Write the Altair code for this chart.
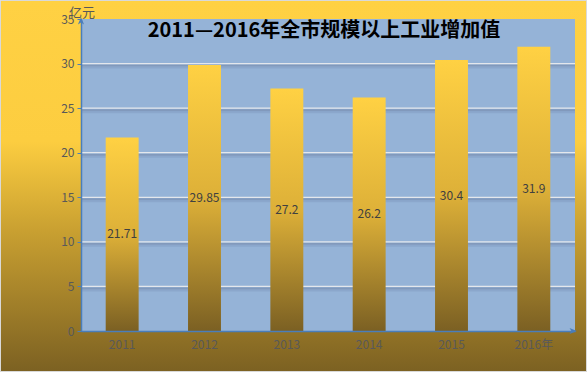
import altair as alt
import pandas as pd

years = ["2011", "2012", "2013", "2014", "2015", "2016"]
values = [21.71, 29.85, 27.2, 26.2, 30.4, 31.9]
value_labels = ["21.71", "29.85", "27.2", "26.2", "30.4", "31.9"]
grid_values = [5, 10, 15, 20, 25, 30]
y_ticks = [0, 5, 10, 15, 20, 25, 30, 35]
title_text = "2011—2016年全市规模以上工业增加值"
unit_text = "亿元"
last_suffix = "年"

W, H = 494, 312
PL, PT, PR, PB = 81, 19, 13, 41

df = pd.DataFrame({"year": years, "value": values, "label": value_labels})
df["half"] = df["value"] / 2
grid_df = pd.DataFrame({"g": grid_values})

FONT = "Noto Sans CJK SC"
AXIS_BLUE = "#4A7EBB"
TXT = "#595959"

xscale = alt.Scale(domain=years, paddingInner=0.6, paddingOuter=0.3)
yscale = alt.Scale(domain=[0, 35], nice=False)

yaxis = alt.Axis(title=None, values=y_ticks, grid=False, domainColor=AXIS_BLUE,
                 domainWidth=1.5, tickColor=AXIS_BLUE, tickSize=4, labelColor=TXT,
                 labelFontSize=12, labelFont=FONT, labelPadding=3, zindex=2)
xaxis = alt.Axis(title=None, labelAngle=0, ticks=False, domainColor=AXIS_BLUE,
                 domainWidth=1.5, labelColor=TXT, labelFontSize=12, labelFont=FONT,
                 labelPadding=8, zindex=2,
                 labelExpr=f"datum.value == '2016' ? datum.value + '{last_suffix}' : datum.value")

bg_grad = alt.Gradient(
    gradient="linear", x1=0, x2=0, y1=0, y2=1,
    stops=[alt.GradientStop(color="#FFD143", offset=0),
           alt.GradientStop(color="#FCCD40", offset=0.38),
           alt.GradientStop(color="#C9A031", offset=0.62),
           alt.GradientStop(color="#7C6122", offset=1)])

bar_grad = alt.Gradient(
    gradient="linear", x1=0, x2=0, y1=0, y2=1,
    stops=[alt.GradientStop(color="#FFD143", offset=0),
           alt.GradientStop(color="#DDB038", offset=0.5),
           alt.GradientStop(color="#7B6023", offset=1)])

one = pd.DataFrame({"a": [0]})
base1 = alt.Chart(one)

background = base1.mark_rect(fill=bg_grad, stroke="#D9D9D9", strokeWidth=1).encode(
    x=alt.value(-PL + 0.5), x2=alt.value(W + PR - 1.5),
    y=alt.value(-PT + 0.5), y2=alt.value(H + PB - 0.5))

plot_bg = base1.mark_rect(fill="#95B3D7").encode(
    x=alt.value(0), x2=alt.value(W), y=alt.value(0), y2=alt.value(H))

g = alt.Chart(grid_df)
shadow1 = g.mark_rule(color="#8199BC", strokeWidth=2, yOffset=2).encode(
    y=alt.Y("g:Q", scale=yscale, axis=yaxis))
shadow2 = g.mark_rule(color="#8BA7CC", strokeWidth=2, yOffset=4).encode(
    y=alt.Y("g:Q", scale=yscale, axis=yaxis))
grid = g.mark_rule(color="#E4E7EC", strokeWidth=1.2).encode(
    y=alt.Y("g:Q", scale=yscale, axis=yaxis))

base = alt.Chart(df)
bars = base.mark_bar(fill=bar_grad).encode(
    x=alt.X("year:N", scale=xscale, sort=years, axis=xaxis),
    y=alt.Y("value:Q", scale=yscale, axis=yaxis))

labels = base.mark_text(color="#404040", fontSize=12, font=FONT).encode(
    x=alt.X("year:N", scale=xscale, sort=years, axis=xaxis),
    y=alt.Y("half:Q", scale=yscale, axis=yaxis),
    text="label:N")

arrow_path = "M0,-1 L0.8,0.9 L0,0.4 L-0.8,0.9 Z"
up_arrow = base1.mark_point(shape=arrow_path, filled=True, color=AXIS_BLUE, size=60, opacity=1).encode(
    x=alt.value(0), y=alt.value(2))
right_arrow = base1.mark_point(shape=arrow_path, filled=True, color=AXIS_BLUE, size=60, angle=90,
                               opacity=1).encode(x=alt.value(W - 2), y=alt.value(H))

title = base1.mark_text(text=title_text, fontSize=20, fontWeight="bold", font=FONT,
                        color="#000000", align="center", baseline="middle").encode(
    x=alt.value(243), y=alt.value(12))

unit = base1.mark_text(text=unit_text, fontSize=13, font=FONT, color=TXT,
                       align="center", baseline="middle").encode(
    x=alt.value(1), y=alt.value(-6))

chart = alt.layer(background, plot_bg, shadow2, shadow1, grid, bars, labels,
                  up_arrow, right_arrow, title, unit).properties(
    width=W, height=H,
    autosize=alt.AutoSizeParams(type="none"),
    padding={"left": PL, "top": PT, "right": PR, "bottom": PB},
).configure_view(stroke=None).configure(background="white")

chart.save("out.html", embed_options={"renderer": "svg", "actions": False})
